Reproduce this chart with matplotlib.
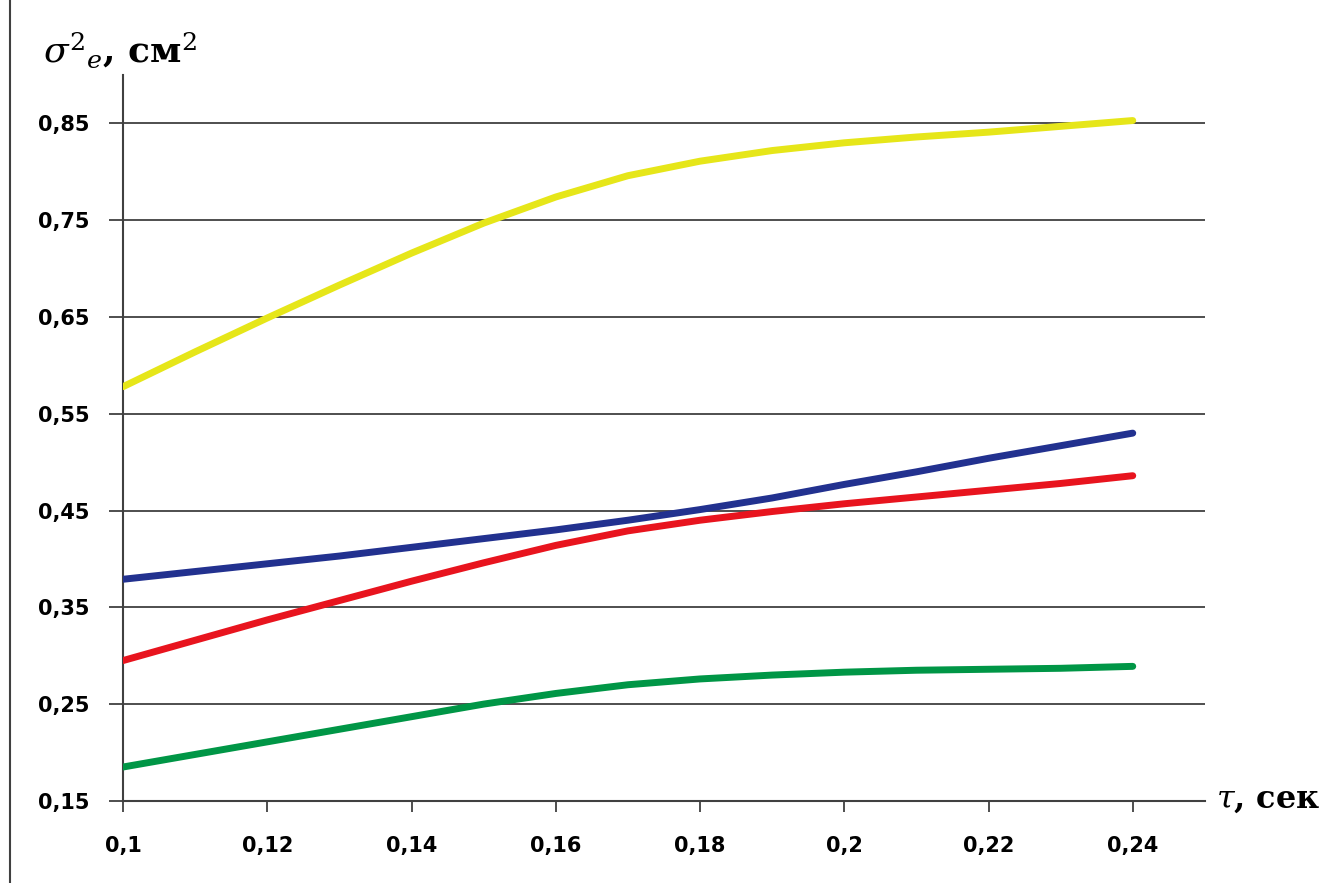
import matplotlib
matplotlib.use("Agg")
import matplotlib.pyplot as plt
from matplotlib.ticker import FuncFormatter
from matplotlib.lines import Line2D

# values, step 0.01
tau = [0.10, 0.11, 0.12, 0.13, 0.14, 0.15, 0.16, 0.17,
       0.18, 0.19, 0.20, 0.21, 0.22, 0.23, 0.24]
yellow = [0.578, 0.614, 0.649, 0.683, 0.716, 0.747, 0.774, 0.796,
          0.811, 0.822, 0.830, 0.836, 0.841, 0.847, 0.853]
blue = [0.379, 0.387, 0.395, 0.403, 0.412, 0.421, 0.430, 0.440,
        0.451, 0.463, 0.477, 0.490, 0.504, 0.517, 0.530]
red = [0.295, 0.316, 0.337, 0.357, 0.377, 0.396, 0.414, 0.429,
       0.440, 0.449, 0.457, 0.464, 0.471, 0.478, 0.486]
green = [0.185, 0.198, 0.211, 0.224, 0.237, 0.250, 0.261, 0.270,
         0.276, 0.280, 0.283, 0.285, 0.286, 0.287, 0.289]

xticks = [0.1, 0.12, 0.14, 0.16, 0.18, 0.2, 0.22, 0.24]
yticks = [0.15, 0.25, 0.35, 0.45, 0.55, 0.65, 0.75, 0.85]

plt.rcParams['mathtext.fontset'] = 'dejavuserif'

fig = plt.figure(figsize=(13.29, 8.83), dpi=100)
ax = fig.add_axes([0.0926, 0.093, 0.814, 0.822])

for vals, col in [(yellow, '#e6e619'), (blue, '#22318f'), (red, '#e8141e'), (green, '#009646')]:
    ax.plot(tau, vals, color=col, lw=5, solid_capstyle='round',
            solid_joinstyle='round', zorder=3)

ax.set_xlim(0.1, 0.25)
ax.set_ylim(0.15, 0.9)
ax.set_xticks(xticks)
ax.set_yticks(yticks)
fmt = FuncFormatter(lambda v, p: ('%g' % round(v, 3)).replace('.', ','))
ax.xaxis.set_major_formatter(fmt)
ax.yaxis.set_major_formatter(fmt)

ax.grid(axis='y', color='#404040', lw=1.3)
ax.set_axisbelow(True)
for s in ['top', 'right']:
    ax.spines[s].set_visible(False)
for s in ['left', 'bottom']:
    ax.spines[s].set_color('#404040')
    ax.spines[s].set_linewidth(1.5)
ax.tick_params(axis='y', direction='out', length=10, width=1.3, color='#404040', pad=14)
ax.tick_params(axis='x', direction='out', length=8, width=1.3, color='#404040', pad=17)
for lab in ax.get_xticklabels() + ax.get_yticklabels():
    lab.set_fontsize(15)
    lab.set_fontweight('bold')

fig.text(0.032, 0.943, r'$\sigma^2{}_e$, см$^2$', fontsize=26, family='DejaVu Serif',
         fontweight='bold', ha='left', va='center')
fig.text(0.915, 0.095, r'$\tau$, сек', fontsize=23, family='DejaVu Serif',
         fontweight='bold', ha='left', va='center')

fig.add_artist(Line2D([0.0075, 0.0075], [0.0, 1.0], color='#404040', lw=1.5))

fig.savefig('out.png', dpi=100)
